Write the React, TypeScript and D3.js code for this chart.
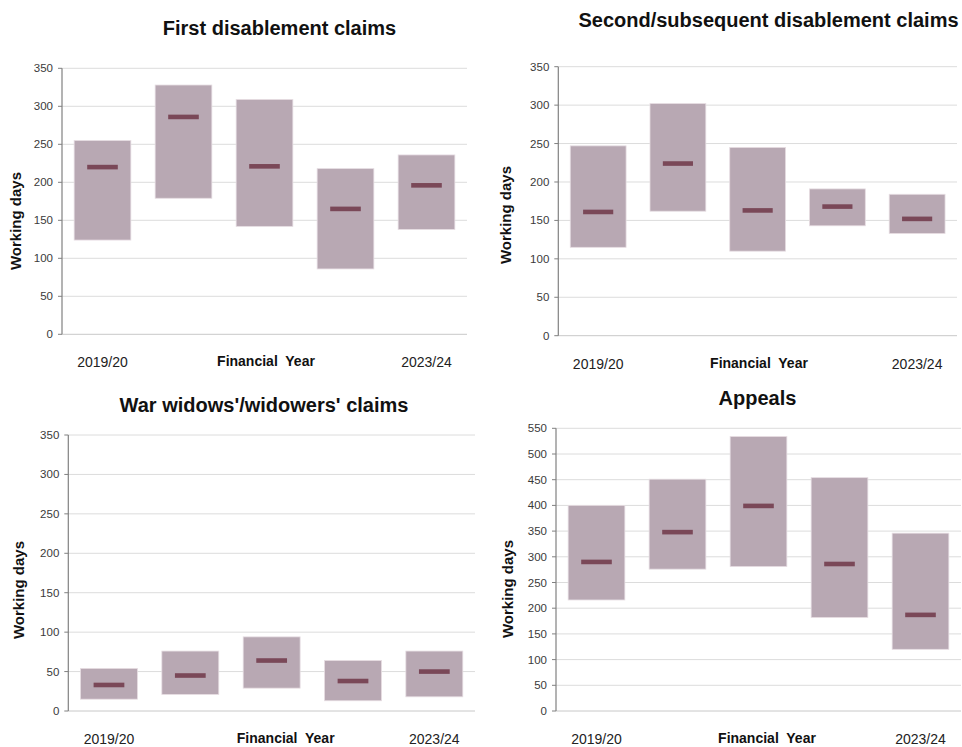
import React from "react";
import * as d3 from "d3";

const years = ["2019/20", "2020/21", "2021/22", "2022/23", "2023/24"];
const shownYearLabels = ["2019/20", "2023/24"];

const firstLow = [124, 179, 142, 86, 138];
const firstHigh = [255, 328, 309, 218, 236];
const firstMedian = [220, 286, 221, 165, 196];

const secondLow = [115, 162, 110, 143, 133];
const secondHigh = [247, 302, 245, 191, 184];
const secondMedian = [161, 224, 163, 168, 152];

const warLow = [15, 21, 29, 13, 18];
const warHigh = [54, 76, 94, 64, 76];
const warMedian = [33, 45, 64, 38, 50];

const appealLow = [216, 276, 281, 182, 120];
const appealHigh = [400, 451, 534, 454, 346];
const appealMedian = [290, 348, 399, 286, 187];

const ticks350 = [0, 50, 100, 150, 200, 250, 300, 350];
const ticks550 = [0, 50, 100, 150, 200, 250, 300, 350, 400, 450, 500, 550];

const panels = [
  {
    title: "First disablement claims", low: firstLow, high: firstHigh, median: firstMedian, ticks: ticks350,
    left: 62, right: 467, bottom: 334.3, top: 68.3,
    titleX: 279.5, titleY: 35, yLabX: 16, yLabY: 221, xLabY: 366.5, finX: 266,
  },
  {
    title: "Second/subsequent disablement claims", low: secondLow, high: secondHigh, median: secondMedian, ticks: ticks350,
    left: 558.3, right: 957, bottom: 335.7, top: 66.7,
    titleX: 768.5, titleY: 26.7, yLabX: 505.5, yLabY: 215, xLabY: 369, finX: 759,
  },
  {
    title: "War widows'/widowers' claims", low: warLow, high: warHigh, median: warMedian, ticks: ticks350,
    left: 68.3, right: 475, bottom: 711, top: 435,
    titleX: 264, titleY: 411.5, yLabX: 19, yLabY: 590, xLabY: 743.5, finX: 285.7,
  },
  {
    title: "Appeals", low: appealLow, high: appealHigh, median: appealMedian, ticks: ticks550,
    left: 556, right: 961, bottom: 711, top: 428.3,
    titleX: 757.5, titleY: 405, yLabX: 508, yLabY: 589, xLabY: 743.5, finX: 767,
  },
];

const FONT = "'Liberation Sans', Arial, sans-serif";
const BOX = "#b8a8b3";
const MED = "#7a4858";

function Panel({ p }: { p: any }) {
  const maxV = p.ticks[p.ticks.length - 1];
  const y = d3.scaleLinear().domain([0, maxV]).range([p.bottom, p.top]);
  const x = d3.scaleBand<string>().domain(years).range([p.left, p.right]).paddingInner(0.3).paddingOuter(0.15);
  const bw = x.bandwidth();
  const mw = bw * 0.54;
  return (
    <g>
      <text x={p.titleX} y={p.titleY} textAnchor="middle" fontFamily={FONT} fontWeight="bold" fontSize={20} fill="#111">
        {p.title}
      </text>
      {p.ticks.map((t: number) => (
        <g key={t}>
          <line x1={p.left} x2={p.right} y1={y(t)} y2={y(t)} stroke={t === 0 ? "#c8c8c8" : "#dcdcdc"} strokeWidth={1} />
          <line x1={p.left - 4} x2={p.left} y1={y(t)} y2={y(t)} stroke="#808080" strokeWidth={1} />
          <text x={p.left - 9} y={y(t)} dy="0.35em" textAnchor="end" fontFamily={FONT} fontSize={11.5} fill="#3a3a3a">
            {t}
          </text>
        </g>
      ))}
      <line x1={p.left} x2={p.left} y1={p.top} y2={p.bottom} stroke="#808080" strokeWidth={1.2} />
      {years.map((yr, i) => (
        <g key={yr}>
          <rect x={x(yr)} y={y(p.high[i])} width={bw} height={y(p.low[i]) - y(p.high[i])} fill={BOX} stroke="#e6dde2" strokeWidth={0.8} />
          <rect x={(x(yr) as number) + bw / 2 - mw / 2} y={y(p.median[i]) - 2.3} width={mw} height={4.6} fill={MED} />
        </g>
      ))}
      <text transform={`translate(${p.yLabX},${p.yLabY}) rotate(-90)`} textAnchor="middle" dy="0.35em" fontFamily={FONT} fontWeight="bold" fontSize={15} fill="#111">
        Working days
      </text>
      {shownYearLabels.map((yr) => (
        <text key={yr} x={(x(yr) as number) + bw / 2} y={p.xLabY} textAnchor="middle" fontFamily={FONT} fontSize={14} fill="#222">
          {yr}
        </text>
      ))}
      <text x={p.finX} y={p.xLabY - 1} textAnchor="middle" fontFamily={FONT} fontWeight="bold" fontSize={14} fill="#111" style={{ whiteSpace: "pre" }}>
        {"Financial  Year"}
      </text>
    </g>
  );
}

export default function App() {
  return (
    <svg width={962} height={747} style={{ position: "absolute", left: 0, top: 0, background: "#fff" }}>
      <rect x={0} y={0} width={962} height={747} fill="#fff" />
      {panels.map((p) => (
        <Panel key={p.title} p={p} />
      ))}
    </svg>
  );
}
